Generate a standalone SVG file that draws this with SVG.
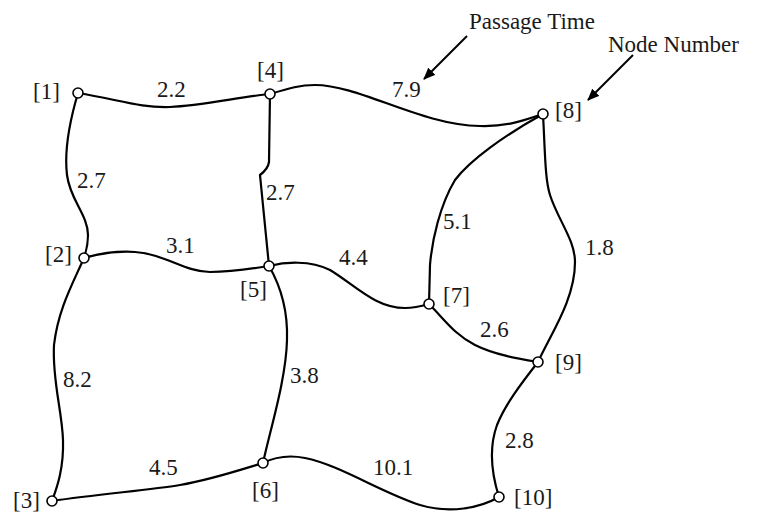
<svg xmlns="http://www.w3.org/2000/svg" width="781" height="514" viewBox="0 0 781 514">
<style>
.e{fill:none;stroke:#000;stroke-width:2.2;stroke-linecap:round}
.n{fill:#fff;stroke:#000;stroke-width:1.6}
text{font-family:"Liberation Serif","Times New Roman",serif;font-size:23px;fill:#1a1a1a}
.ptr{stroke:#000;stroke-width:2;fill:none}
</style>
<defs>
<marker id="ah" viewBox="0 0 12 10" refX="11" refY="5" markerWidth="12" markerHeight="10" markerUnits="userSpaceOnUse" orient="auto">
<path d="M0,0 L12,5 L0,10 Z" fill="#000"/>
</marker>
</defs>
<rect width="781" height="514" fill="#fff"/>
<g id="connectors">
<path class="e" d="M78,93 C120,100 140,108 170,107 C200,106 240,97 270,94"/>
<path class="e" d="M78,93 C70,120 64,150 67,175 C70,200 88,215 88,235 C88,245 86,252 84,258"/>
<path class="e" d="M270,94 L269,162 Q268,169 260,175 L269,266"/>
<path class="e" d="M84,258 C105,252 120,251 135,252 C165,254 185,272 210,272 C235,272 255,268 269,266"/>
<path class="e" d="M270,94 C290,88 300,85 315,85 C360,85 420,125 480,126 C510,127 530,118 543,114"/>
<path class="e" d="M543,114 C505,135 470,160 455,180 C440,205 432,240 430,265 L429,304"/>
<path class="e" d="M543,114 C545,150 545,180 550,195 C558,220 575,240 575,262 C575,300 550,335 538,362"/>
<path class="e" d="M269,266 C285,262 310,260 330,270 C355,285 375,308 405,308 C415,308 422,306 429,304"/>
<path class="e" d="M429,304 C445,320 455,335 475,345 C495,355 520,359 538,362"/>
<path class="e" d="M84,258 C72,285 58,310 54,345 C52,380 62,410 63,440 C64,470 56,490 52,501"/>
<path class="e" d="M269,266 C280,285 288,310 287,340 C286,380 270,430 263,463"/>
<path class="e" d="M52,501 C100,494 150,490 180,485 C210,480 240,470 263,463"/>
<path class="e" d="M263,463 C275,457 290,455 305,458 C340,465 380,492 420,505 C450,514 480,508 499,497"/>
<path class="e" d="M538,362 C520,385 505,405 497,425 C488,450 492,475 499,497"/>
<line class="ptr" x1="467" y1="36" x2="424" y2="79" marker-end="url(#ah)"/>
<line class="ptr" x1="633" y1="55" x2="588" y2="100" marker-end="url(#ah)"/>
</g>
<g id="edge-labels">
<text x="157" y="97">2.2</text>
<text x="77" y="188">2.7</text>
<text x="266" y="200">2.7</text>
<text x="166" y="253">3.1</text>
<text x="392" y="97">7.9</text>
<text x="443" y="229">5.1</text>
<text x="585" y="255">1.8</text>
<text x="339" y="265">4.4</text>
<text x="63" y="387">8.2</text>
<text x="290" y="383">3.8</text>
<text x="480" y="337">2.6</text>
<text x="149" y="475">4.5</text>
<text x="373" y="475">10.1</text>
<text x="505" y="448">2.8</text>
</g>
<g id="legend">
<text x="469" y="29">Passage Time</text>
<text x="608" y="52">Node Number</text>
</g>
<g id="node1"><circle class="n" cx="78" cy="93" r="5"/><text x="33" y="99">[1]</text></g>
<g id="node2"><circle class="n" cx="84" cy="258" r="5"/><text x="45" y="262">[2]</text></g>
<g id="node3"><circle class="n" cx="52" cy="501" r="5"/><text x="13" y="508">[3]</text></g>
<g id="node4"><circle class="n" cx="270" cy="94" r="5"/><text x="257" y="78">[4]</text></g>
<g id="node5"><circle class="n" cx="269" cy="266" r="5"/><text x="240" y="297">[5]</text></g>
<g id="node6"><circle class="n" cx="263" cy="463" r="5"/><text x="252" y="498">[6]</text></g>
<g id="node7"><circle class="n" cx="429" cy="304" r="5"/><text x="443" y="303">[7]</text></g>
<g id="node8"><circle class="n" cx="543" cy="114" r="5"/><text x="555" y="118">[8]</text></g>
<g id="node9"><circle class="n" cx="538" cy="362" r="5"/><text x="555" y="370">[9]</text></g>
<g id="node10"><circle class="n" cx="499" cy="497" r="5"/><text x="514" y="505">[10]</text></g>
</svg>
